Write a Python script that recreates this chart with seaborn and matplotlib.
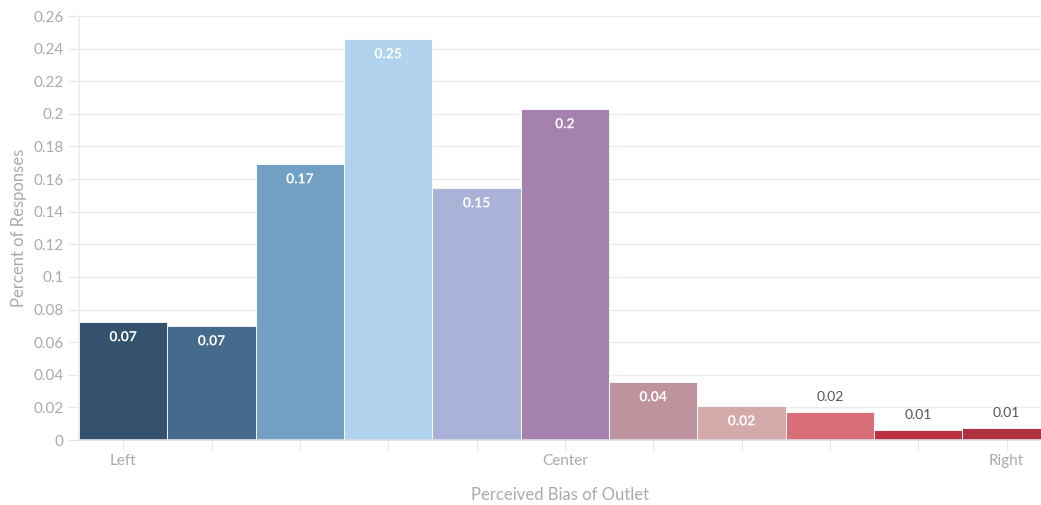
import matplotlib
matplotlib.use("Agg")
import matplotlib.pyplot as plt
import matplotlib.patheffects as pe
from matplotlib.ticker import FuncFormatter, MultipleLocator
import pandas as pd
import seaborn as sns

# data
bias_scale = [-5, -4, -3, -2, -1, 0, 1, 2, 3, 4, 5]
share = [0.0724, 0.0699, 0.1692, 0.2459, 0.1545, 0.2030,
         0.0356, 0.0208, 0.0172, 0.0061, 0.0074]
bar_colors = ["#34526e", "#466a8b", "#72a0c5", "#b1d3ed", "#abb2d7", "#a581ae",
              "#bf939e", "#d3aaa9", "#d86f78", "#b93142", "#ad313e"]
tick_names = {-5: "Left", 0: "Center", 5: "Right"}

df = pd.DataFrame({"bias": bias_scale, "share": share})

sns.set_theme(style="white")
plt.rcParams["font.family"] = ["Lato", "DejaVu Sans"]

fig = plt.figure(figsize=(10.41, 5.05), dpi=100)
ax = fig.add_axes([79 / 1041, 65 / 505, 962 / 1041, 424 / 505])

sns.barplot(data=df, x="bias", y="share", hue="bias",
            palette=bar_colors, legend=False, width=1.0,
            edgecolor="#ffffff", linewidth=0.6, saturation=1, ax=ax)

# value labels: inside the bar top for tall bars, above for short ones
for patch, val, col in zip(ax.patches, share, bar_colors):
    cx = patch.get_x() + patch.get_width() / 2
    txt = f"{round(val, 2):g}"
    if val > 0.02:
        t = ax.annotate(txt, (cx, val), xytext=(0, -11), textcoords="offset points",
                        ha="center", va="center", fontsize=10, color="white",
                        fontweight="bold")
        t.set_path_effects([pe.withStroke(linewidth=2, foreground=col, alpha=0.9)])
    else:
        ax.annotate(txt, (cx, val), xytext=(0, 10.5), textcoords="offset points",
                    ha="center", va="center", fontsize=10, color="#555555")

ax.set_ylim(0, 0.26)
ax.set_xlim(-0.5, 10.39)
ax.yaxis.set_major_locator(MultipleLocator(0.02))
ax.yaxis.set_major_formatter(FuncFormatter(lambda v, p: f"{round(v, 2):g}"))
ax.grid(axis="y", color="#ececec", linewidth=1)
ax.set_axisbelow(True)

ax.set_xticks(range(len(bias_scale)))
ax.set_xticklabels([tick_names.get(b, "") for b in bias_scale])
ax.tick_params(axis="x", length=7, width=0.8, color="#e6e6e6", labelcolor="#aaaaaa",
               labelsize=11, pad=3, bottom=True)
ax.tick_params(axis="y", length=7, width=0.8, color="#e6e6e6", labelcolor="#aaaaaa",
               labelsize=11, pad=4, left=True)

for side in ["top", "right"]:
    ax.spines[side].set_visible(False)
ax.spines["left"].set_color("#ececec")
ax.spines["bottom"].set_color("#d8dde6")

ax.set_xlabel("Perceived Bias of Outlet", fontsize=12, color="#aaaaaa", labelpad=14)
ax.set_ylabel("Percent of Responses", fontsize=12, color="#aaaaaa", labelpad=5)

fig.savefig("out.png", dpi=100)
